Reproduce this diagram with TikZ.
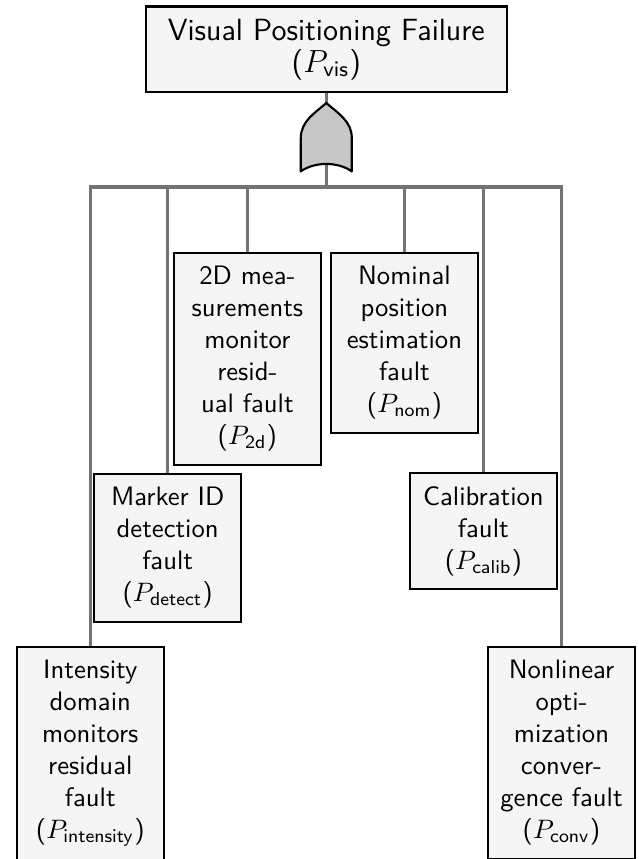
\documentclass[tikz,border=0pt]{standalone}
\usepackage{amsmath}
\usetikzlibrary{positioning}

\begin{document}
\begin{tikzpicture}[
    thick,
    box/.style={draw, fill=black!4, font=\sffamily, align=center,
      text width=1.72cm, inner xsep=0.11cm, inner ysep=5pt, anchor=north},
    wire/.style={draw=black!55, line width=1.25pt},
    gate/.style={draw, fill=black!22, line join=round}
  ]
  \useasboundingbox (0,0) rectangle (8.41,-11.32);

  \node[box, anchor=center, text width=4.5cm, inner xsep=0.13cm, inner ysep=4.6pt,
    font=\sffamily\fontsize{11.5}{12}\selectfont] (vis) at (4.30,-0.65)
    {Visual Positioning Failure\\($P_{\mathsf{vis}}$)};

  \node[box] (twod) at (3.26,-3.32) {2D mea-\\surements\\monitor\\resid-\\ual fault\\($P_{\mathsf{2d}}$)};
  \node[box] (nom) at (5.33,-3.32) {Nominal\\position\\estimation\\fault\\($P_{\mathsf{nom}}$)};
  \node[box] (detect) at (2.21,-6.23) {Marker ID\\detection\\fault\\($P_{\mathsf{detect}}$)};
  \node[box] (calib) at (6.37,-6.22) {Calibration\\fault\\($P_{\mathsf{calib}}$)};
  \node[box] (intensity) at (1.19,-8.51) {Intensity\\domain\\monitors\\residual\\fault\\($P_{\mathsf{intensity}}$)};
  \node[box] (conv) at (7.40,-8.51) {Nonlinear\\opti-\\mization\\conver-\\gence fault\\($P_{\mathsf{conv}}$)};

  \coordinate (bar) at (0,-2.465);
  \coordinate (gtip) at (4.30,-1.358);

  % wires
  \draw[wire] (vis.south) -- (vis.south |- bar);
  \draw[wire] (intensity.north) -- (intensity.north |- bar) -- (conv.north |- bar) -- (conv.north);
  \foreach \n in {twod,nom,detect,calib}
    \draw[wire] (\n.north) -- (\n.north |- bar);

  % or gate
  \begin{scope}[shift={(gtip)}]
    \draw[gate] (0,0) .. controls (0.15,-0.13) and (0.336,-0.24) .. (0.336,-0.46)
      -- (0.336,-0.90) .. controls (0.15,-0.77) and (-0.15,-0.77) .. (-0.336,-0.90)
      -- (-0.336,-0.46) .. controls (-0.336,-0.24) and (-0.15,-0.13) .. cycle;
  \end{scope}
\end{tikzpicture}
\end{document}
